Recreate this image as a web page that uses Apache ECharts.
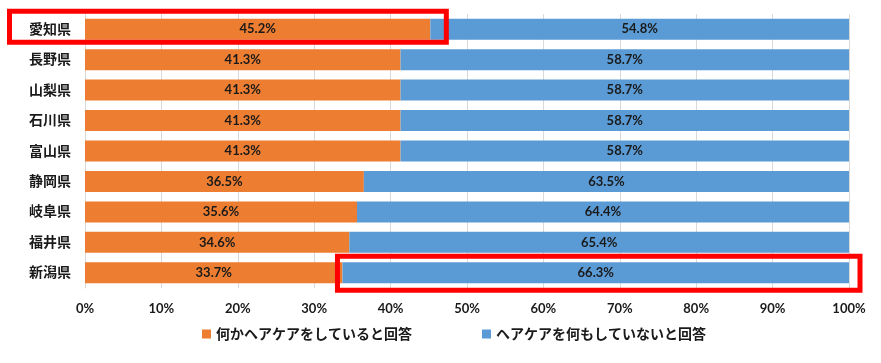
<!DOCTYPE html>
<html><head><meta charset="utf-8">
<script src="https://cdn.jsdelivr.net/npm/echarts@6/dist/echarts.min.js"></script>
<style>html,body{margin:0;padding:0;background:#fff}#c{width:881px;height:363px}</style>
</head><body><div id="c"></div>
<script>
const categories = ['愛知県','長野県','山梨県','石川県','富山県','静岡県','岐阜県','福井県','新潟県'];
const careYes = [45.2,41.3,41.3,41.3,41.3,36.5,35.6,34.6,33.7];
const careNo = [54.8,58.7,58.7,58.7,58.7,63.5,64.4,65.4,66.3];
const seriesNames = ['何かヘアケアをしていると回答','ヘアケアを何もしていないと回答'];
const xTicks = [0,10,20,30,40,50,60,70,80,90,100];

const FONT = 'Lato, "Noto Sans CJK JP", sans-serif';
const chart = echarts.init(document.getElementById('c'));
const lbl = {show:true, position:'inside', formatter: p => p.value.toFixed(1)+'%', color:'#1a1a1a', fontWeight:'bold', fontSize:13, fontFamily:FONT};
chart.setOption({
  animation:false,
  grid:{left:85,right:32,top:14,bottom:75,containLabel:false},
  legend:{left:197,top:322,itemWidth:9,itemHeight:9,itemGap:70,icon:'rect',
    textStyle:{fontSize:14,fontWeight:'bold',color:'#1a1a1a',fontFamily:FONT}},
  xAxis:{type:'value',min:xTicks[0],max:xTicks[xTicks.length-1],interval:10,
    axisLabel:{formatter:'{value}%',fontSize:13,fontWeight:'bold',color:'#1a1a1a',fontFamily:FONT,margin:14},
    splitLine:{lineStyle:{color:'#d9d9d9'}},axisLine:{show:false},axisTick:{show:false}},
  yAxis:{type:'category',data:categories,inverse:true,
    axisLabel:{fontSize:14,fontWeight:'bold',color:'#1a1a1a',fontFamily:FONT,margin:14},
    axisLine:{show:true,lineStyle:{color:'#d9d9d9'}},axisTick:{show:false}},
  series:[
    {name:seriesNames[0],type:'bar',stack:'a',data:careYes,barWidth:21,itemStyle:{color:'#ED7D31'},label:lbl},
    {name:seriesNames[1],type:'bar',stack:'a',data:careNo,barWidth:21,itemStyle:{color:'#5B9BD5'},label:lbl}
  ]
});
// red highlight boxes, positioned from the axes
const p1a = chart.convertToPixel({gridIndex:0},[0,categories[0]]);
const p1b = chart.convertToPixel({gridIndex:0},[careYes[0],categories[0]]);
const pl = categories.length-1;
const p2a = chart.convertToPixel({gridIndex:0},[careYes[pl],categories[pl]]);
const p2b = chart.convertToPixel({gridIndex:0},[100,categories[pl]]);
chart.setOption({graphic:[
  {type:'rect',shape:{x:9.5,y:p1a[1]-18,width:p1b[0]+16-9.5,height:31},style:{fill:'none',stroke:'#ff0000',lineWidth:5},z:100},
  {type:'rect',shape:{x:p2a[0]-5,y:p2a[1]-16.5,width:p2b[0]+11-(p2a[0]-5),height:34},style:{fill:'none',stroke:'#ff0000',lineWidth:5},z:100}
]});
</script></body></html>
